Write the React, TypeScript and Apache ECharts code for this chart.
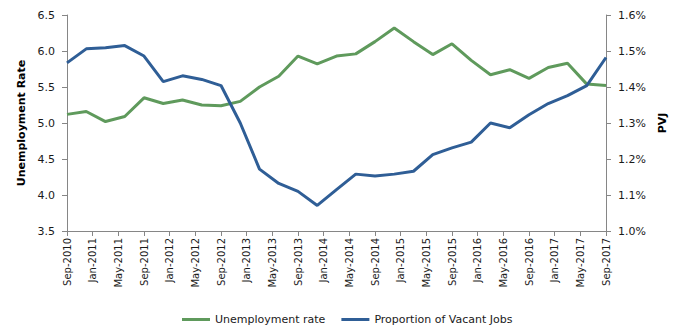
import React, { useEffect, useRef } from "react";
import * as echarts from "echarts";

const MONTHS = ["Jan", "Feb", "Mar", "Apr", "May", "Jun", "Jul", "Aug", "Sep", "Oct", "Nov", "Dec"];

// Monthly category axis Sep-2010 .. Sep-2017
const monthCategories: string[] = [];
for (let i = 0; i <= 84; i++) {
  const m = (8 + i) % 12;
  const y = 2010 + Math.floor((8 + i) / 12);
  monthCategories.push(`${MONTHS[m]}-${y}`);
}

// Quarterly observation dates (every 3rd month from Sep-2010)
const quarterDates: string[] = monthCategories.filter((_, i) => i % 3 === 0);

const unemploymentRate = [
  5.12, 5.16, 5.02, 5.09, 5.35, 5.27, 5.32, 5.25, 5.24, 5.3,
  5.5, 5.65, 5.93, 5.82, 5.93, 5.96, 6.13, 6.32, 6.13, 5.95,
  6.1, 5.87, 5.67, 5.74, 5.62, 5.77, 5.83, 5.54, 5.52,
];

const vacantJobs = [
  1.467, 1.506, 1.509, 1.515, 1.486, 1.415, 1.431, 1.421, 1.404, 1.3,
  1.172, 1.132, 1.11, 1.071, 1.115, 1.158, 1.153, 1.158, 1.166, 1.212,
  1.231, 1.247, 1.3, 1.287, 1.323, 1.354, 1.376, 1.404, 1.482,
];

const GREEN = "#5f9a5c";
const BLUE = "#2f5e96";
const AXIS = "#868686";
const TEXT = "#1a1a1a";
const FONT = "DejaVu Sans";

export default function App() {
  const ref = useRef<HTMLDivElement>(null);
  useEffect(() => {
    document.body.style.margin = "0";
    if (!ref.current) return;
    const chart = echarts.init(ref.current, undefined, { renderer: "svg" });
    chart.setOption({
      animation: false,
      textStyle: { fontFamily: FONT },
      grid: { left: 67, right: 78, top: 15, bottom: 104, containLabel: false },
      legend: {
        left: 177,
        top: 309,
        itemWidth: 28,
        itemHeight: 3,
        itemGap: 16,
        icon: "rect",
        textStyle: { fontFamily: FONT, fontSize: 11, color: TEXT },
        data: ["Unemployment rate", "Proportion of Vacant Jobs"],
      },
      xAxis: {
        type: "category",
        data: monthCategories,
        boundaryGap: false,
        axisLine: { lineStyle: { color: AXIS, width: 1 } },
        axisTick: { show: true, interval: 3, length: 5, lineStyle: { color: AXIS } },
        axisLabel: {
          interval: 3,
          rotate: 90,
          margin: 7,
          fontFamily: FONT,
          fontSize: 10,
          color: TEXT,
        },
        splitLine: { show: false },
      },
      yAxis: [
        {
          type: "value",
          min: 3.5,
          max: 6.5,
          interval: 0.5,
          position: "left",
          name: "Unemployment Rate",
          nameLocation: "middle",
          nameRotate: 90,
          nameGap: 33,
          nameTextStyle: { fontFamily: FONT, fontSize: 11, fontWeight: "bold", color: "#000" },
          axisLine: { show: true, lineStyle: { color: AXIS, width: 1 } },
          axisTick: { show: true, length: 5, lineStyle: { color: AXIS } },
          axisLabel: {
            margin: 12,
            fontFamily: FONT,
            fontSize: 11,
            color: TEXT,
            formatter: (v: number) => v.toFixed(1),
          },
          splitLine: { show: false },
        },
        {
          type: "value",
          min: 1.0,
          max: 1.6,
          interval: 0.1,
          position: "right",
          name: "PVJ",
          nameLocation: "middle",
          nameRotate: 90,
          nameGap: 50,
          nameTextStyle: { fontFamily: FONT, fontSize: 11, fontWeight: "bold", color: "#000" },
          axisLine: { show: true, lineStyle: { color: AXIS, width: 1 } },
          axisTick: { show: true, length: 5, lineStyle: { color: AXIS } },
          axisLabel: {
            margin: 12,
            fontFamily: FONT,
            fontSize: 11,
            color: TEXT,
            formatter: (v: number) => `${v.toFixed(1)}%`,
          },
          splitLine: { show: false },
        },
      ],
      series: [
        {
          name: "Unemployment rate",
          type: "line",
          yAxisIndex: 0,
          showSymbol: false,
          symbol: "none",
          itemStyle: { color: GREEN },
          lineStyle: { color: GREEN, width: 3 },
          data: quarterDates.map((d, i) => [d, unemploymentRate[i]]),
        },
        {
          name: "Proportion of Vacant Jobs",
          type: "line",
          yAxisIndex: 1,
          showSymbol: false,
          symbol: "none",
          itemStyle: { color: BLUE },
          lineStyle: { color: BLUE, width: 3 },
          data: quarterDates.map((d, i) => [d, vacantJobs[i]]),
        },
      ],
    });
    return () => chart.dispose();
  }, []);
  return <div ref={ref} style={{ width: 684, height: 335 }} />;
}
